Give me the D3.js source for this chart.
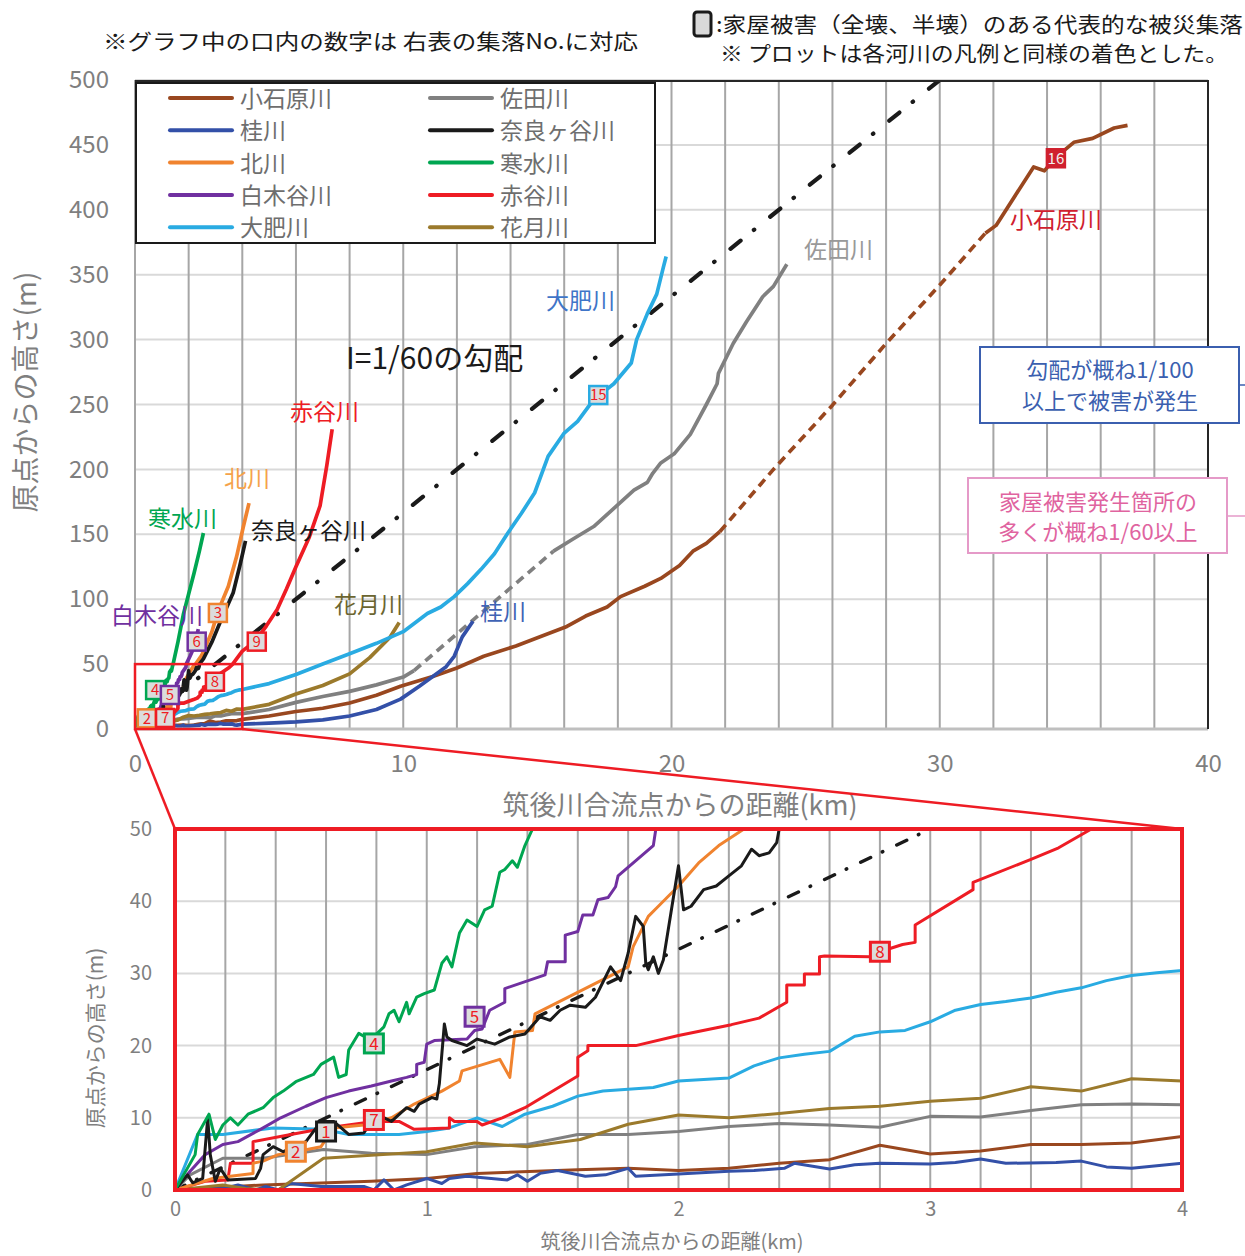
<!DOCTYPE html>
<html>
<head>
<meta charset="utf-8">
<script src="https://cdn.jsdelivr.net/npm/d3@7"></script>
<style>
  body { margin: 0; background: #fff; }
  svg { display: block; }
  text { font-family: "Noto Sans CJK JP", "Noto Sans", sans-serif; }
</style>
</head>
<body>
<svg width="1245" height="1256"></svg>
<script>
const svg = d3.select('svg')

// river profiles: [distance from Chikugo confluence (km), height above origin (m)]
const koishiwara = [[0,0],[0.35,0.7],[0.78,1.2],[1.0,1.6],[1.2,2.3],[1.6,2.8],[1.8,3],[2.0,2.7],[2.2,3],[2.4,3.7],[2.6,4.2],[2.8,6.2],[3.0,5],[3.2,5.4],[3.4,6.3],[3.6,6.3],[3.8,6.5],[4.0,7.4],
  [5,10],[6,13.5],[7,16],[8,20],[9,26],[9.9,33],[11.1,40.5],[12,47],[13,56],[14.2,64],[15.1,71],[16.1,79],[16.8,87],[17.6,94],[18.1,102],[19,110],[19.6,116],[20.3,126],[20.8,137],[21.3,143],[21.8,152],
  [23.8,200],[26,249.5],[28,297],[30,342],[31.7,382],
  [32.1,388],[33.5,433],[33.9,430],[34.3,440],[35,452],[35.7,455],[36.5,463],[37,465]]
const sada = [[0,0],[0.06,2.1],[0.19,4.4],[0.35,4.4],[0.59,5.6],[0.78,5.1],[1.0,4.9],[1.19,6],[1.4,6.3],[1.6,7.7],[1.8,7.7],[2.0,8.1],[2.2,8.8],[2.4,9.2],[2.6,9],[2.8,8.7],[3.0,10.2],[3.2,10.1],[3.4,11],[3.6,11.8],[3.8,11.9],[4.0,11.8],
  [5,15],[6,20.5],[7,25],[8,29],[9,34],[10,40],[10.4,45],[15.6,137],
  [16.3,146],[17.1,156],[17.8,169],[18.6,184],[19.1,190],[19.3,197],[19.6,205],[20.1,212],[20.7,227],[21.3,250],[21.7,266],[21.75,274],[22.3,297],[22.8,314],[23.4,333],[23.8,341],[24.3,358]]
const katsura = [[0,0],[0.19,0.2],[0.25,0.7],[0.32,0],[0.36,0.5],[0.41,0],[0.46,0.9],[0.58,0.5],[0.75,0.5],[0.79,0],[0.83,1.4],[0.87,0],[0.92,0.7],[1.0,1.6],[1.06,0.9],[1.09,1.6],[1.16,1.9],[1.32,1.4],[1.36,2.1],[1.4,1.2],[1.45,2.3],[1.52,2.7],[1.63,1.9],[1.71,2.1],[1.8,3],[1.83,1.9],[2.0,2.2],[2.2,2.6],[2.3,2.7],[2.42,3],[2.46,3.7],[2.6,2.9],[2.7,3.5],[2.8,3.7],[3.0,3.6],[3.1,3.8],[3.2,4.3],[3.3,3.7],[3.5,3.8],[3.6,4],[3.7,3.2],[3.8,3],[4.0,3.7],
  [5,4.5],[6,5.5],[7,7],[8,10],[9,15],[9.9,23],[10.6,33],[11.1,40.5],[11.6,48],[11.9,56],[12.2,71],[12.6,83]]
const naragatani = [[0,0],[0.05,2.1],[0.07,1],[0.11,1.6],[0.13,10],[0.14,4.9],[0.16,1.2],[0.18,3],[0.21,1.4],[0.32,1.6],[0.34,3],[0.35,4.9],[0.39,6],[0.43,5.3],[0.52,6.7],[0.58,9.5],[0.63,9.5],[0.69,7.7],[0.75,7.9],[0.8,10.5],[0.86,9.5],[0.92,11.4],[0.95,10.9],[0.97,11.9],[1.02,12.8],[1.04,12.6],[1.05,14.7],[1.07,23],[1.08,21.2],[1.1,20.7],[1.16,20],[1.2,20.9],[1.27,20.2],[1.33,21.2],[1.39,21.6],[1.45,24],[1.49,23.5],[1.53,24.9],[1.57,25.6],[1.63,25.3],[1.67,26.7],[1.73,30.9],[1.77,29],[1.8,32.8],[1.83,37.9],[1.86,36.5],[1.87,31.4],[1.88,30.5],[1.9,32.3],[1.92,30],[1.94,31.9],[1.97,38.4],[2.0,44.9],[2.02,38.8],[2.05,39.3],[2.1,41.6],[2.15,42.1],[2.2,43.5],[2.25,44.9],[2.29,47.2],[2.32,46.3],[2.36,46.7],[2.39,48.1],[2.4,50],
  [2.55,54],[2.86,66.7],[3.17,82],[3.66,105],[3.91,126],[4.12,145]]
const kita = [[0,0],[0.15,1.6],[0.22,1.9],[0.31,2.3],[0.31,3.7],[0.35,4],[0.41,4.9],[0.48,5.3],[0.58,6],[0.63,8.6],[0.75,9],[0.86,10],[0.95,11.9],[1.06,13.7],[1.13,15.1],[1.14,16.5],[1.29,18.1],[1.33,15.6],[1.35,21.9],[1.42,22.1],[1.43,24.4],[1.8,30.9],[1.82,33.7],[1.88,37.9],[1.92,39.3],[2.0,42.1],[2.08,45.3],[2.16,47.7],[2.26,50],
  [2.48,56.5],[2.86,74.5],[3.1,91],[3.48,110],[3.79,133],[4.04,156],[4.25,174]]
const shozu = [[0,0],[0.08,4.9],[0.09,7.7],[0.135,10.5],[0.16,7],[0.19,9],[0.22,10],[0.25,9],[0.29,10.5],[0.35,11.4],[0.39,12.8],[0.43,13.7],[0.48,15],[0.55,16],[0.58,17.4],[0.63,18.4],[0.65,15.6],[0.68,16],[0.69,19.4],[0.73,21.7],[0.78,20.7],[0.8,21.6],[0.83,22.6],[0.85,24.4],[0.87,24.9],[0.89,23.3],[0.92,26],[0.93,24.4],[0.96,26.7],[0.99,27.2],[1.03,27.7],[1.06,31.4],[1.08,32.3],[1.1,30.9],[1.13,35.6],[1.16,37.4],[1.2,36.5],[1.23,38.8],[1.26,39.3],[1.29,44],[1.31,44.4],[1.34,45.6],[1.36,44.7],[1.39,47.7],[1.42,50],
  [1.6,67],[1.8,88],[2.0,104],[2.2,120],[2.4,137],[2.55,151]]
const shirakidani = [[0,0],[0.06,2.6],[0.12,4.9],[0.19,6.3],[0.25,6.7],[0.35,8.6],[0.42,10],[0.52,11.6],[0.6,12.8],[0.69,13.7],[0.78,14.4],[0.86,15.1],[0.92,15.6],[0.96,16],[0.96,17.4],[0.99,17.7],[1.0,20.2],[1.03,20.7],[1.16,20.9],[1.19,22.1],[1.22,22.3],[1.25,24.9],[1.31,26],[1.31,27.9],[1.47,29.8],[1.48,31.6],[1.55,31.6],[1.55,35.3],[1.6,35.8],[1.62,38.1],[1.66,38.1],[1.68,40.2],[1.72,40.5],[1.75,42],[1.76,43.5],[1.9,47.7],[1.91,50],
  [2.05,56],[2.2,63],[2.36,77]]
const akadani = [[0,0],[0.12,1.2],[0.21,1.4],[0.22,3.7],[0.31,3.7],[0.31,6.7],[0.46,7.7],[0.6,8.6],[0.79,9.5],[0.89,9.5],[0.95,8.4],[1.09,8.6],[1.09,10],[1.11,9.5],[1.2,9.5],[1.22,9],[1.3,10],[1.39,11.4],[1.6,15.8],[1.6,18.4],[1.64,19.3],[1.64,20],[1.83,20],[2.0,21.4],[2.21,22.9],[2.32,23.8],[2.43,26],[2.43,28.4],[2.5,28.4],[2.5,29.9],[2.56,29.9],[2.56,32.3],[2.58,32.4],[2.76,32.3],[2.8,33],[2.89,34],[2.94,34.3],[2.94,36.7],[3.17,41.6],[3.17,42.6],[3.4,45.8],[3.51,47.4],[3.64,50],
  [4.0,60],[4.5,68],[4.9,79.5],[5.3,92],[5.65,108],[6.0,125],[6.5,148],[6.9,172],[7.15,203],[7.35,231]]
const obi = [[0,0],[0.09,7.7],[0.19,7.7],[0.39,8.6],[0.59,8.4],[0.69,7.7],[0.89,7.7],[1.0,8.1],[1.09,8.6],[1.2,10],[1.3,8.8],[1.39,10.5],[1.5,11.6],[1.6,13],[1.7,13.7],[1.9,14.2],[2.0,15.1],[2.2,15.5],[2.3,17.2],[2.4,18.3],[2.5,18.8],[2.6,19.2],[2.7,21.3],[2.8,21.9],[2.9,22.1],[3.0,23.3],[3.1,24.9],[3.2,25.7],[3.3,26.1],[3.4,26.6],[3.5,27.4],[3.6,28],[3.7,29],[3.8,29.7],[3.9,30.1],[4.0,30.4],
  [5,35],[6,42],[7,50],[8,58],[9,66],[10,75],[10.9,89],[11.4,94],[11.9,102],[12.4,112],[12.9,123],[13.4,135],[13.9,151],[14.4,166],[14.9,182],[15.4,210],[16,228],[16.5,237],[17,251],[17.3,257],[17.85,266],[18.5,282],[18.7,300],[19.1,320],[19.45,335],[19.7,356],[19.8,364]]
const kagetsu = [[0,0],[0.19,0.7],[0.28,0.2],[0.41,0],[0.59,4.4],[1.0,5.3],[1.19,6.5],[1.4,6],[1.61,7],[1.8,9.1],[2.0,10.4],[2.2,10],[2.4,10.6],[2.6,11.3],[2.8,11.6],[3.0,12.3],[3.2,12.7],[3.4,14.3],[3.6,13.7],[3.8,15.4],[4.0,15.1],
  [5,19],[6,27],[7,33.5],[8,42.5],[8.75,55],[9.5,70.5],[9.85,82]]
// I = 1/60 reference gradient
const gradient60 = [[0,0],[30,500]]

const riverNames = ['小石原川','佐田川','桂川','花月川','大肥川','赤谷川','白木谷川','北川','奈良ヶ谷川','寒水川']
const riverSeries = [koishiwara, sada, katsura, kagetsu, obi, akadani, shirakidani, kita, naragatani, shozu]
const riverColors = ['#99471f','#808080','#3350a8','#9b7a2c','#29abe2','#ee1c24','#7030a0','#f0832f','#1a1a1a','#00a651']
const dashedKm = {'小石原川': [21.8, 31.7], '佐田川': [10.4, 15.6]}

const legendLeft = ['小石原川','桂川','北川','白木谷川','大肥川']
const legendRight = ['佐田川','奈良ヶ谷川','寒水川','赤谷川','花月川']

const mainTicksX = [0,10,20,30,40]
const mainTicksY = [0,50,100,150,200,250,300,350,400,450,500]
const insetTicksX = [0,1,2,3,4]
const insetTicksY = [0,10,20,30,40,50]

// settlement numbers (boxes) at [km, m]
const mainMarkers = [
  {no:'4', river:'寒水川', km:0.75, m:30},
  {no:'5', river:'白木谷川', km:1.3, m:26.2},
  {no:'2', river:'北川', km:0.44, m:8.2},
  {no:'7', river:'赤谷川', km:1.12, m:8.5},
  {no:'8', river:'赤谷川', km:2.98, m:36.4},
  {no:'6', river:'白木谷川', km:2.3, m:67.3},
  {no:'3', river:'北川', km:3.09, m:89.4},
  {no:'9', river:'赤谷川', km:4.54, m:67.3},
  {no:'15', river:'大肥川', km:17.27, m:257.3},
  {no:'16', river:'小石原川', km:34.33, m:439.7, filled:true}
]
const insetMarkers = [
  {no:'2', river:'北川', km:0.48, m:5.3},
  {no:'1', river:'奈良ヶ谷川', km:0.6, m:8.1},
  {no:'7', river:'赤谷川', km:0.79, m:9.7},
  {no:'4', river:'寒水川', km:0.79, m:20.3},
  {no:'5', river:'白木谷川', km:1.19, m:24},
  {no:'8', river:'赤谷川', km:2.8, m:33}
]

const colorOf = name => riverColors[riverNames.indexOf(name)]
const gray = '#7f7f7f'

// scales
const x = d3.scaleLinear().domain([0, 40]).range([135, 1208])
const y = d3.scaleLinear().domain([0, 500]).range([729, 80])
const xi = d3.scaleLinear().domain([0, 4]).range([175, 1182])
const yi = d3.scaleLinear().domain([0, 50]).range([1190, 829])

const defs = svg.append('defs')
defs.append('clipPath').attr('id', 'clipMain').append('rect')
  .attr('x', 135).attr('y', 80).attr('width', 1073).attr('height', 649)
defs.append('clipPath').attr('id', 'clipInset').append('rect')
  .attr('x', 175).attr('y', 829).attr('width', 1007).attr('height', 361)

function drawGrid(xs, ys, hLines, vLines) {
  const g = svg.append('g')
  g.selectAll('line.h').data(hLines).join('line')
    .attr('x1', xs.range()[0]).attr('x2', xs.range()[1])
    .attr('y1', d => ys(d)).attr('y2', d => ys(d))
    .attr('stroke', '#d9d9d9').attr('stroke-width', 2)
  g.selectAll('line.v').data(vLines).join('line')
    .attr('x1', d => xs(d)).attr('x2', d => xs(d))
    .attr('y1', ys.range()[0]).attr('y2', ys.range()[1])
    .attr('stroke', '#a6a6a6').attr('stroke-width', 2)
}

function pieces(data, range) {
  if (!range) return [{pts: data, dashed: false}]
  const [a, b] = range
  return [
    {pts: data.filter(d => d[0] <= a), dashed: false},
    {pts: data.filter(d => d[0] >= a && d[0] <= b), dashed: true},
    {pts: data.filter(d => d[0] >= b), dashed: false}
  ]
}

function drawRivers(xs, ys, width, clipId, dashDot) {
  const line = d3.line().x(d => xs(d[0])).y(d => ys(d[1]))
  const layer = svg.append('g').attr('clip-path', `url(#${clipId})`)
  layer.append('path').attr('d', line(gradient60))
    .attr('fill', 'none').attr('stroke', '#1a1a1a').attr('stroke-width', width + 0.5)
    .attr('stroke-linecap', 'round').attr('stroke-dasharray', dashDot)
  riverNames.forEach((name, i) => {
    pieces(riverSeries[i], dashedKm[name]).forEach(p => {
      layer.append('path').attr('d', line(p.pts))
        .attr('fill', 'none')
        .attr('stroke', riverColors[i])
        .attr('stroke-width', width)
        .attr('stroke-linejoin', 'round')
        .attr('stroke-dasharray', p.dashed ? '9,6' : null)
    })
  })
}

function drawMarkers(list, xs, ys, size, fontSize, strokeW) {
  const g = svg.append('g')
  list.forEach(mk => {
    const cx = xs(mk.km), cy = ys(mk.m)
    g.append('rect')
      .attr('x', cx - size / 2).attr('y', cy - size / 2)
      .attr('width', size).attr('height', size)
      .attr('fill', mk.filled ? '#d0202e' : '#dcdcdc')
      .attr('stroke', mk.filled ? '#d0202e' : colorOf(mk.river))
      .attr('stroke-width', strokeW)
    g.append('text')
      .attr('x', cx).attr('y', cy + fontSize * 0.36)
      .attr('text-anchor', 'middle')
      .attr('font-size', fontSize)
      .attr('fill', mk.filled ? '#f0f0f0' : '#ee1c24')
      .text(mk.no)
  })
}

// ---------- main chart ----------
drawGrid(x, y, mainTicksY, d3.range(0, 41, 2))
drawRivers(x, y, 3.7, 'clipMain', '13,17,0.5,20.5')

// frame
svg.append('line').attr('x1', 135).attr('x2', 1208).attr('y1', 729).attr('y2', 729)
  .attr('stroke', '#bfbfbf').attr('stroke-width', 3)
svg.append('line').attr('x1', 135).attr('x2', 1209).attr('y1', 81).attr('y2', 81)
  .attr('stroke', '#262626').attr('stroke-width', 2)
svg.append('line').attr('x1', 1208).attr('x2', 1208).attr('y1', 80).attr('y2', 729)
  .attr('stroke', '#262626').attr('stroke-width', 2)

const axMainY = svg.append('g').attr('transform', 'translate(135,0)')
  .call(d3.axisLeft(y).tickValues(mainTicksY).tickSize(0).tickPadding(26))
const axMainX = svg.append('g').attr('transform', 'translate(0,729)')
  .call(d3.axisBottom(x).tickValues(mainTicksX).tickSize(0).tickPadding(26))
;[axMainY, axMainX].forEach(a => {
  a.select('.domain').remove()
  a.selectAll('text').attr('font-size', 24).attr('fill', gray)
    .style('font-family', '"Noto Sans CJK JP", sans-serif')
})

svg.append('text').attr('x', 680).attr('y', 815).attr('text-anchor', 'middle')
  .attr('font-size', 27).attr('fill', gray).text('筑後川合流点からの距離(km)')
svg.append('text').attr('transform', 'translate(36,392) rotate(-90)').attr('text-anchor', 'middle')
  .attr('font-size', 28).attr('fill', gray).text('原点からの高さ(m)')

// legend
const legend = svg.append('g')
legend.append('rect').attr('x', 136).attr('y', 83).attr('width', 519).attr('height', 160)
  .attr('fill', '#fff').attr('stroke', '#1a1a1a').attr('stroke-width', 2)
;[[legendLeft, 170], [legendRight, 430]].forEach(([names, lx]) => {
  names.forEach((name, r) => {
    const ly = 98 + r * 32.3
    legend.append('line').attr('x1', lx).attr('x2', lx + 62).attr('y1', ly).attr('y2', ly)
      .attr('stroke', colorOf(name)).attr('stroke-width', 4).attr('stroke-linecap', 'round')
    legend.append('text').attr('x', lx + 70).attr('y', ly + 9)
      .attr('font-size', 23).attr('fill', '#6e6e6e').text(name)
  })
})

// river labels
const riverLabels = [
  ['寒水川', 148, 527, '#00a651'],
  ['白木谷川', 111, 624, '#7030a0'],
  ['北川', 224, 487, '#f5a24a'],
  ['奈良ヶ谷川', 251, 539, '#1a1a1a'],
  ['赤谷川', 290, 420, '#ee1c24'],
  ['花月川', 334, 613, '#6b6530'],
  ['桂川', 480, 620, '#3f63b5'],
  ['大肥川', 546, 309, '#3f75c8'],
  ['佐田川', 804, 258, '#999999'],
  ['小石原川', 1010, 228, '#d0202e']
]
svg.append('g').selectAll('text').data(riverLabels).join('text')
  .attr('x', d => d[1]).attr('y', d => d[2]).attr('font-size', 23)
  .attr('fill', d => d[3]).text(d => d[0])

svg.append('text').attr('x', 346).attr('y', 369).attr('font-size', 30)
  .attr('fill', '#1a1a1a').text('I=1/60の勾配')

// callouts
svg.append('rect').attr('x', 980).attr('y', 347).attr('width', 259).attr('height', 76)
  .attr('fill', '#fff').attr('stroke', '#3b5faf').attr('stroke-width', 2)
svg.append('line').attr('x1', 1239).attr('x2', 1245).attr('y1', 385).attr('y2', 385)
  .attr('stroke', '#3b5faf').attr('stroke-width', 1.5)
svg.append('text').attr('x', 1110).attr('y', 378).attr('text-anchor', 'middle')
  .attr('font-size', 22).attr('fill', '#3b5faf').text('勾配が概ね1/100')
svg.append('text').attr('x', 1110).attr('y', 409).attr('text-anchor', 'middle')
  .attr('font-size', 22).attr('fill', '#3b5faf').text('以上で被害が発生')

svg.append('rect').attr('x', 968).attr('y', 478).attr('width', 259).attr('height', 75)
  .attr('fill', '#fff').attr('stroke', '#e59ac8').attr('stroke-width', 2)
svg.append('line').attr('x1', 1227).attr('x2', 1245).attr('y1', 516).attr('y2', 516)
  .attr('stroke', '#e59ac8').attr('stroke-width', 1.5)
svg.append('text').attr('x', 1098).attr('y', 510).attr('text-anchor', 'middle')
  .attr('font-size', 22).attr('fill', '#e0649f').text('家屋被害発生箇所の')
svg.append('text').attr('x', 1098).attr('y', 540).attr('text-anchor', 'middle')
  .attr('font-size', 22).attr('fill', '#e0649f').text('多くが概ね1/60以上')

drawMarkers(mainMarkers, x, y, 18, 15, 2.5)

// header notes
svg.append('text').attr('x', 103).attr('y', 49).attr('font-size', 21)
  .attr('textLength', 535).attr('lengthAdjust', 'spacingAndGlyphs')
  .attr('fill', '#1a1a1a').text('※グラフ中の口内の数字は 右表の集落No.に対応')
svg.append('rect').attr('x', 694).attr('y', 12).attr('width', 17).attr('height', 24).attr('rx', 3)
  .attr('fill', '#d9d9d9').attr('stroke', '#1a1a1a').attr('stroke-width', 3)
svg.append('text').attr('x', 716).attr('y', 32).attr('font-size', 21)
  .attr('textLength', 527).attr('lengthAdjust', 'spacingAndGlyphs')
  .attr('fill', '#1a1a1a').text(':家屋被害（全壊、半壊）のある代表的な被災集落')
svg.append('text').attr('x', 720).attr('y', 61).attr('font-size', 21)
  .attr('textLength', 508).attr('lengthAdjust', 'spacingAndGlyphs')
  .attr('fill', '#1a1a1a').text('※ プロットは各河川の凡例と同様の着色とした。')

// zoom window in main chart and connectors
svg.append('rect').attr('x', x(0)).attr('y', y(50)).attr('width', x(4) - x(0)).attr('height', y(0) - y(50))
  .attr('fill', 'none').attr('stroke', '#ee1c24').attr('stroke-width', 2.5)
svg.append('line').attr('x1', x(0)).attr('y1', y(0)).attr('x2', xi(0)).attr('y2', yi(50))
  .attr('stroke', '#ee1c24').attr('stroke-width', 2.5)
svg.append('line').attr('x1', x(4)).attr('y1', y(0)).attr('x2', xi(4)).attr('y2', yi(50))
  .attr('stroke', '#ee1c24').attr('stroke-width', 2.5)

// ---------- inset chart ----------
svg.append('rect').attr('x', 175).attr('y', 829).attr('width', 1007).attr('height', 361).attr('fill', '#fff')
drawGrid(xi, yi, insetTicksY, d3.range(0, 4.01, 0.2))
drawRivers(xi, yi, 3, 'clipInset', '11,13,0.5,15.5')
svg.append('rect').attr('x', 175).attr('y', 829).attr('width', 1007).attr('height', 361)
  .attr('fill', 'none').attr('stroke', '#ee1c24').attr('stroke-width', 4)
drawMarkers(insetMarkers, xi, yi, 19, 17, 3)

const axInY = svg.append('g').attr('transform', 'translate(175,0)')
  .call(d3.axisLeft(yi).tickValues(insetTicksY).tickSize(0).tickPadding(23))
const axInX = svg.append('g').attr('transform', 'translate(0,1190)')
  .call(d3.axisBottom(xi).tickValues(insetTicksX).tickSize(0).tickPadding(12).tickFormat(d3.format('d')))
;[axInY, axInX].forEach(a => {
  a.select('.domain').remove()
  a.selectAll('text').attr('font-size', 20).attr('fill', gray)
    .style('font-family', '"Noto Sans CJK JP", sans-serif')
})

svg.append('text').attr('x', 672).attr('y', 1249).attr('text-anchor', 'middle')
  .attr('font-size', 20).attr('fill', gray).text('筑後川合流点からの距離(km)')
svg.append('text').attr('transform', 'translate(103,1038) rotate(-90)').attr('text-anchor', 'middle')
  .attr('font-size', 21).attr('fill', gray).text('原点からの高さ(m)')
</script>
</body>
</html>
